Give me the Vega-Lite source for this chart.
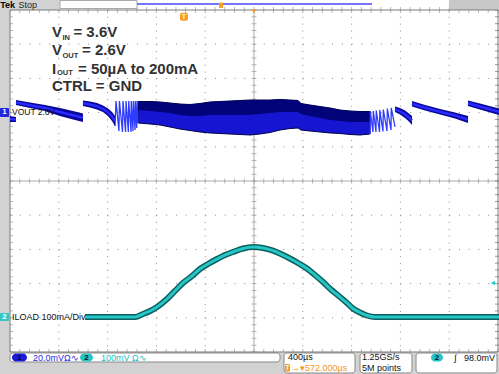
{
  "$schema": "https://vega.github.io/schema/vega-lite/v6.json",
  "width": 499,
  "height": 374,
  "autosize": {"type": "none"},
  "padding": 0,
  "background": "#ffffff",
  "config": {"view": {"stroke": null}, "font": "Liberation Sans"},
  "datasets": {
    "xt": [{"t":0},{"t":80},{"t":160},{"t":240},{"t":320},{"t":400},{"t":480},{"t":560},{"t":640},{"t":720},{"t":800},{"t":880},{"t":960},{"t":1040},{"t":1120},{"t":1200},{"t":1280},{"t":1360},{"t":1440},{"t":1520},{"t":1600},{"t":1680},{"t":1760},{"t":1840},{"t":1920},{"t":2000},{"t":2080},{"t":2160},{"t":2240},{"t":2320},{"t":2400},{"t":2480},{"t":2560},{"t":2640},{"t":2720},{"t":2800},{"t":2880},{"t":2960},{"t":3040},{"t":3120},{"t":3200},{"t":3280},{"t":3360},{"t":3440},{"t":3520},{"t":3600},{"t":3680},{"t":3760},{"t":3840},{"t":3920},{"t":4000}],
    "yt": [{"v":-5},{"v":-4.8},{"v":-4.6},{"v":-4.4},{"v":-4.2},{"v":-4},{"v":-3.8},{"v":-3.6},{"v":-3.4},{"v":-3.2},{"v":-3},{"v":-2.8},{"v":-2.6},{"v":-2.4},{"v":-2.2},{"v":-2},{"v":-1.8},{"v":-1.6},{"v":-1.4},{"v":-1.2},{"v":-1},{"v":-0.8},{"v":-0.6},{"v":-0.4},{"v":-0.2},{"v":0},{"v":0.2},{"v":0.4},{"v":0.6},{"v":0.8},{"v":1},{"v":1.2},{"v":1.4},{"v":1.6},{"v":1.8},{"v":2},{"v":2.2},{"v":2.4},{"v":2.6},{"v":2.8},{"v":3},{"v":3.2},{"v":3.4},{"v":3.6},{"v":3.8},{"v":4},{"v":4.2},{"v":4.4},{"v":4.6},{"v":4.8},{"v":5}],
    "vseg": [
      {"seg":"A","t":0,"hi":1.901,"mid":1.813,"lo":1.725},{"seg":"A","t":49,"hi":1.871,"mid":1.798,"lo":1.725},
      {"seg":"B","t":49,"hi":2.368,"mid":2.295,"lo":2.222},{"seg":"B","t":164,"hi":2.295,"mid":2.215,"lo":2.135},{"seg":"B","t":287,"hi":2.222,"mid":2.135,"lo":2.047},{"seg":"B","t":410,"hi":2.135,"mid":2.018,"lo":1.901},{"seg":"B","t":533,"hi":2.032,"mid":1.908,"lo":1.784},{"seg":"B","t":598,"hi":1.974,"mid":1.849,"lo":1.725},
      {"seg":"C","t":598,"hi":2.354,"mid":2.273,"lo":2.193},{"seg":"C","t":656,"hi":2.325,"mid":2.237,"lo":2.149},{"seg":"C","t":713,"hi":2.281,"mid":2.186,"lo":2.091},{"seg":"C","t":762,"hi":2.208,"mid":2.113,"lo":2.018},{"seg":"C","t":803,"hi":2.120,"mid":2.010,"lo":1.901},{"seg":"C","t":836,"hi":2.018,"mid":1.886,"lo":1.754},{"seg":"C","t":861,"hi":1.901,"mid":1.754,"lo":1.608},
      {"seg":"G","t":3156,"hi":2.178,"mid":2.098,"lo":2.018},{"seg":"G","t":3197,"hi":2.135,"mid":2.039,"lo":1.944},{"seg":"G","t":3238,"hi":2.061,"mid":1.952,"lo":1.842},{"seg":"G","t":3270,"hi":1.974,"mid":1.857,"lo":1.740},{"seg":"G","t":3295,"hi":1.901,"mid":1.769,"lo":1.637},
      {"seg":"H","t":3295,"hi":2.339,"mid":2.259,"lo":2.178},{"seg":"H","t":3402,"hi":2.222,"mid":2.142,"lo":2.061},{"seg":"H","t":3525,"hi":2.105,"mid":2.025,"lo":1.944},{"seg":"H","t":3648,"hi":2.003,"mid":1.915,"lo":1.827},{"seg":"H","t":3754,"hi":1.901,"mid":1.798,"lo":1.696},
      {"seg":"I","t":3754,"hi":2.354,"mid":2.273,"lo":2.193},{"seg":"I","t":3852,"hi":2.266,"mid":2.178,"lo":2.091},{"seg":"I","t":4008,"hi":2.120,"mid":2.025,"lo":1.930}
    ],
    "dense": [
      {"t":1049,"hi":2.325,"mid":2.076,"lo":1.696},{"t":1148,"hi":2.325,"mid":2.047,"lo":1.667},{"t":1230,"hi":2.310,"mid":2.018,"lo":1.637},{"t":1311,"hi":2.281,"mid":1.988,"lo":1.579},{"t":1393,"hi":2.251,"mid":1.930,"lo":1.520},{"t":1475,"hi":2.237,"mid":1.901,"lo":1.477},{"t":1557,"hi":2.266,"mid":1.901,"lo":1.433},{"t":1639,"hi":2.310,"mid":1.930,"lo":1.404},{"t":1721,"hi":2.325,"mid":1.930,"lo":1.389},{"t":1803,"hi":2.339,"mid":1.930,"lo":1.374},{"t":1885,"hi":2.354,"mid":1.930,"lo":1.360},{"t":1967,"hi":2.368,"mid":1.930,"lo":1.345},{"t":2049,"hi":2.368,"mid":1.959,"lo":1.374},{"t":2131,"hi":2.368,"mid":1.988,"lo":1.418},{"t":2213,"hi":2.383,"mid":2.018,"lo":1.491},{"t":2295,"hi":2.368,"mid":2.018,"lo":1.535},{"t":2361,"hi":2.354,"mid":2.018,"lo":1.550},{"t":2385,"hi":2.266,"mid":1.959,"lo":1.491},{"t":2459,"hi":2.222,"mid":1.901,"lo":1.462},{"t":2541,"hi":2.178,"mid":1.842,"lo":1.433},{"t":2623,"hi":2.135,"mid":1.784,"lo":1.404},{"t":2705,"hi":2.076,"mid":1.754,"lo":1.389},{"t":2787,"hi":2.047,"mid":1.725,"lo":1.360},{"t":2869,"hi":2.032,"mid":1.725,"lo":1.345},{"t":2951,"hi":2.032,"mid":1.725,"lo":1.374}
    ],
    "teeth": [
      {"grp":"L","t":861,"v":1.608},{"grp":"L","t":869,"v":2.339},{"grp":"L","t":893,"v":1.462},{"grp":"L","t":897,"v":2.339},{"grp":"L","t":922,"v":1.433},{"grp":"L","t":926,"v":2.339},{"grp":"L","t":947,"v":1.433},{"grp":"L","t":951,"v":2.339},{"grp":"L","t":970,"v":1.433},{"grp":"L","t":973,"v":2.339},{"grp":"L","t":992,"v":1.433},{"grp":"L","t":994,"v":2.339},{"grp":"L","t":1008,"v":1.462},{"grp":"L","t":1011,"v":2.339},{"grp":"L","t":1025,"v":1.491},{"grp":"L","t":1027,"v":2.339},{"grp":"L","t":1039,"v":1.550},{"grp":"L","t":1041,"v":2.339},{"grp":"L","t":1049,"v":1.696},
      {"grp":"R","t":2951,"v":1.374},{"grp":"R","t":2953,"v":2.047},{"grp":"R","t":2975,"v":1.433},{"grp":"R","t":2978,"v":2.047},{"grp":"R","t":3000,"v":1.433},{"grp":"R","t":3002,"v":2.061},{"grp":"R","t":3029,"v":1.433},{"grp":"R","t":3031,"v":2.076},{"grp":"R","t":3057,"v":1.447},{"grp":"R","t":3060,"v":2.091},{"grp":"R","t":3090,"v":1.462},{"grp":"R","t":3093,"v":2.120},{"grp":"R","t":3123,"v":1.491},{"grp":"R","t":3125,"v":2.135},{"grp":"R","t":3156,"v":1.579}
    ],
    "iload": [
      {"t":615,"v":-3.977},{"t":1025,"v":-3.977},{"t":1090,"v":-3.889},{"t":1148,"v":-3.801},{"t":1205,"v":-3.684},{"t":1287,"v":-3.450},{"t":1352,"v":-3.216},{"t":1418,"v":-2.982},{"t":1492,"v":-2.778},{"t":1557,"v":-2.573},{"t":1623,"v":-2.427},{"t":1697,"v":-2.281},{"t":1762,"v":-2.164},{"t":1828,"v":-2.076},{"t":1910,"v":-1.974},{"t":1992,"v":-1.930},{"t":2074,"v":-1.959},{"t":2156,"v":-2.038},{"t":2221,"v":-2.135},{"t":2295,"v":-2.266},{"t":2361,"v":-2.398},{"t":2434,"v":-2.558},{"t":2500,"v":-2.749},{"t":2566,"v":-2.953},{"t":2631,"v":-3.173},{"t":2705,"v":-3.392},{"t":2762,"v":-3.567},{"t":2811,"v":-3.728},{"t":2869,"v":-3.845},{"t":2926,"v":-3.933},{"t":2992,"v":-3.977},{"t":4008,"v":-3.977}
    ]
  },
  "layer": [
    {
      "data": {"values": [{"t":400},{"t":800},{"t":1200},{"t":1600},{"t":2400},{"t":2800},{"t":3200},{"t":3600}]},
      "mark": {"type": "rule", "color": "#8c8c8c", "strokeWidth": 1, "strokeDash": [1, 5.84]},
      "encoding": {
        "x": {"field": "t", "type": "quantitative", "scale": {"domain": [-82, 4008.2], "nice": false, "zero": false}, "axis": null},
        "y": {"datum": 5, "type": "quantitative", "scale": {"domain": [-5.6433, 5.2924], "nice": false, "zero": false}, "axis": null},
        "y2": {"datum": -5}
      }
    },
    {
      "data": {"values": [{"v":-4},{"v":-3},{"v":-2},{"v":-1},{"v":1},{"v":2},{"v":3},{"v":4}]},
      "mark": {"type": "rule", "color": "#8c8c8c", "strokeWidth": 1, "strokeDash": [1, 8.76]},
      "encoding": {
        "x": {"datum": 0, "type": "quantitative"},
        "x2": {"datum": 4000},
        "y": {"field": "v", "type": "quantitative"}
      }
    },
    {
      "data": {"values": [{"t":2000}]},
      "mark": {"type": "rule", "color": "#ababab", "strokeWidth": 1},
      "encoding": {"x": {"field": "t", "type": "quantitative"}, "y": {"datum": 5, "type": "quantitative"}, "y2": {"datum": -5}}
    },
    {
      "data": {"values": [{"v":0}]},
      "mark": {"type": "rule", "color": "#ababab", "strokeWidth": 1},
      "encoding": {"x": {"datum": 0, "type": "quantitative"}, "x2": {"datum": 4000}, "y": {"field": "v", "type": "quantitative"}}
    },
    {
      "data": {"name": "xt"},
      "mark": {"type": "tick", "orient": "vertical", "size": 5, "thickness": 1, "color": "#9a9a9a"},
      "encoding": {"x": {"field": "t", "type": "quantitative"}, "y": {"datum": 0, "type": "quantitative"}}
    },
    {
      "data": {"name": "xt"},
      "mark": {"type": "tick", "orient": "vertical", "size": 6, "thickness": 1, "color": "#9a9a9a"},
      "encoding": {"x": {"field": "t", "type": "quantitative"}, "y": {"datum": 5, "type": "quantitative"}}
    },
    {
      "data": {"name": "xt"},
      "mark": {"type": "tick", "orient": "vertical", "size": 6, "thickness": 1, "color": "#9a9a9a"},
      "encoding": {"x": {"field": "t", "type": "quantitative"}, "y": {"datum": -5, "type": "quantitative"}}
    },
    {
      "data": {"name": "yt"},
      "mark": {"type": "tick", "orient": "horizontal", "size": 5, "thickness": 1, "color": "#9a9a9a"},
      "encoding": {"x": {"datum": 2000, "type": "quantitative"}, "y": {"field": "v", "type": "quantitative"}}
    },
    {
      "data": {"name": "yt"},
      "mark": {"type": "tick", "orient": "horizontal", "size": 6, "thickness": 1, "color": "#9a9a9a"},
      "encoding": {"x": {"datum": 0, "type": "quantitative"}, "y": {"field": "v", "type": "quantitative"}}
    },
    {
      "data": {"name": "yt"},
      "mark": {"type": "tick", "orient": "horizontal", "size": 6, "thickness": 1, "color": "#6a6a6a"},
      "encoding": {"x": {"datum": 4000, "type": "quantitative"}, "y": {"field": "v", "type": "quantitative"}}
    },
    {
      "data": {"values": [
        {"t":-82,"t2":0,"v":-5,"v2":5},
        {"t":-82,"t2":4008.2,"v":-5.6433,"v2":-5},
        {"t":-82,"t2":410,"v":5,"v2":5.2924}
      ]},
      "mark": {"type": "rect", "fill": "#d2d2d2"},
      "encoding": {"x": {"field": "t", "type": "quantitative"}, "x2": {"field": "t2"}, "y": {"field": "v", "type": "quantitative"}, "y2": {"field": "v2"}}
    },
    {
      "data": {"values": [{"t":3598,"t2":4008.2,"v":5,"v2":5.2924}]},
      "mark": {"type": "rect", "fill": "#c8c8c8"},
      "encoding": {"x": {"field": "t", "type": "quantitative"}, "x2": {"field": "t2"}, "y": {"field": "v", "type": "quantitative"}, "y2": {"field": "v2"}}
    },
    {
      "data": {"values": [{"t":410,"t2":1041,"v":5.044,"v2":5.278}]},
      "mark": {"type": "rect", "fill": "#ffffff", "stroke": "#a8a8a8", "strokeWidth": 1},
      "encoding": {"x": {"field": "t", "type": "quantitative"}, "x2": {"field": "t2"}, "y": {"field": "v", "type": "quantitative"}, "y2": {"field": "v2"}}
    },
    {
      "data": {"values": [
        {"t":0,"t2":2213,"v":-5.029,"v2":-5.292},
        {"t":2246,"t2":2828,"v":-5.029,"v2":-5.614},
        {"t":2869,"t2":3295,"v":-5.029,"v2":-5.614},
        {"t":3328,"t2":3992,"v":-5.029,"v2":-5.614}
      ]},
      "mark": {"type": "rect", "fill": "#ffffff", "stroke": "#8a8a8a", "strokeWidth": 1, "cornerRadius": 3},
      "encoding": {"x": {"field": "t", "type": "quantitative"}, "x2": {"field": "t2"}, "y": {"field": "v", "type": "quantitative"}, "y2": {"field": "v2"}}
    },
    {
      "data": {"values": [{"t":0,"t2":4000,"v":-5,"v2":5}]},
      "mark": {"type": "rect", "fillOpacity": 0, "stroke": "#7c7c7c", "strokeWidth": 1},
      "encoding": {"x": {"field": "t", "type": "quantitative"}, "x2": {"field": "t2"}, "y": {"field": "v", "type": "quantitative"}, "y2": {"field": "v2"}}
    },
    {
      "data": {"values": [{"t":1041,"t2":2967,"v":5.175}]},
      "mark": {"type": "rule", "color": "#4646f0", "strokeWidth": 1.5},
      "encoding": {"x": {"field": "t", "type": "quantitative"}, "x2": {"field": "t2"}, "y": {"field": "v", "type": "quantitative"}}
    },
    {
      "data": {"values": [{"t":1713,"t2":1746,"v":5.058,"v2":5.219}]},
      "mark": {"type": "rect", "fill": "#f5a023", "cornerRadius": 1},
      "encoding": {"x": {"field": "t", "type": "quantitative"}, "x2": {"field": "t2"}, "y": {"field": "v", "type": "quantitative"}, "y2": {"field": "v2"}}
    },
    {
      "data": {"name": "dense"},
      "mark": {"type": "area", "fill": "#1616d2", "stroke": "#00004a", "strokeWidth": 1},
      "encoding": {"x": {"field": "t", "type": "quantitative"}, "y": {"field": "hi", "type": "quantitative"}, "y2": {"field": "lo"}}
    },
    {
      "data": {"name": "dense"},
      "mark": {"type": "area", "fill": "#00006a", "opacity": 0.85},
      "encoding": {"x": {"field": "t", "type": "quantitative"}, "y": {"field": "hi", "type": "quantitative"}, "y2": {"field": "mid"}}
    },
    {
      "data": {"name": "teeth"},
      "mark": {"type": "line", "color": "#2f3cff", "strokeWidth": 1.3},
      "encoding": {"x": {"field": "t", "type": "quantitative"}, "y": {"field": "v", "type": "quantitative"}, "detail": {"field": "grp"}}
    },
    {
      "data": {"name": "vseg"},
      "mark": {"type": "area", "fill": "#07079a"},
      "encoding": {"x": {"field": "t", "type": "quantitative"}, "y": {"field": "hi", "type": "quantitative"}, "y2": {"field": "lo"}, "detail": {"field": "seg"}}
    },
    {
      "data": {"name": "vseg"},
      "mark": {"type": "line", "color": "#2a2aff", "strokeWidth": 2.5},
      "encoding": {"x": {"field": "t", "type": "quantitative"}, "y": {"field": "mid", "type": "quantitative"}, "detail": {"field": "seg"}}
    },
    {
      "data": {"name": "iload"},
      "mark": {"type": "line", "color": "#0c5f5f", "strokeWidth": 6, "interpolate": "monotone"},
      "encoding": {"x": {"field": "t", "type": "quantitative"}, "y": {"field": "v", "type": "quantitative"}}
    },
    {
      "data": {"name": "iload"},
      "mark": {"type": "line", "color": "#27c6c6", "strokeWidth": 3, "interpolate": "monotone"},
      "encoding": {"x": {"field": "t", "type": "quantitative"}, "y": {"field": "v", "type": "quantitative"}}
    },
    {
      "data": {"values": [{"t":-82,"t2":-8,"v":1.871,"v2":2.135}]},
      "mark": {"type": "rect", "fill": "#2525e0", "cornerRadius": 1},
      "encoding": {"x": {"field": "t", "type": "quantitative"}, "x2": {"field": "t2"}, "y": {"field": "v", "type": "quantitative"}, "y2": {"field": "v2"}}
    },
    {
      "data": {"values": [{"t":-82,"t2":-8,"v":-3.860,"v2":-4.094}]},
      "mark": {"type": "rect", "fill": "#34c6c6", "cornerRadius": 1},
      "encoding": {"x": {"field": "t", "type": "quantitative"}, "x2": {"field": "t2"}, "y": {"field": "v", "type": "quantitative"}, "y2": {"field": "v2"}}
    },
    {
      "data": {"values": [{"t":-45,"v":2.003,"txt":"1"},{"t":-45,"v":-3.977,"txt":"2"}]},
      "mark": {"type": "text", "color": "#ffffff", "fontSize": 8, "fontWeight": "bold", "align": "center", "baseline": "middle"},
      "encoding": {"x": {"field": "t", "type": "quantitative"}, "y": {"field": "v", "type": "quantitative"}, "text": {"field": "txt"}}
    },
    {
      "data": {"values": [{"t":16,"v":2.003,"txt":"VOUT 2.6V"}]},
      "mark": {"type": "text", "color": "#111111", "fontSize": 8.5, "align": "left", "baseline": "middle"},
      "encoding": {"x": {"field": "t", "type": "quantitative"}, "y": {"field": "v", "type": "quantitative"}, "text": {"field": "txt"}}
    },
    {
      "data": {"values": [{"t":16,"v":-3.977,"txt":"ILOAD 100mA/Div"}]},
      "mark": {"type": "text", "color": "#111111", "fontSize": 9, "align": "left", "baseline": "middle"},
      "encoding": {"x": {"field": "t", "type": "quantitative"}, "y": {"field": "v", "type": "quantitative"}, "text": {"field": "txt"}}
    },
    {
      "data": {"values": [{"t":1393,"t2":1459,"v":4.687,"v2":4.921}]},
      "mark": {"type": "rect", "fill": "#f5a02a", "cornerRadius": 2},
      "encoding": {"x": {"field": "t", "type": "quantitative"}, "x2": {"field": "t2"}, "y": {"field": "v", "type": "quantitative"}, "y2": {"field": "v2"}}
    },
    {
      "data": {"values": [{"t":1426,"v":4.804,"txt":"T"}]},
      "mark": {"type": "text", "color": "#fff3dc", "fontSize": 7, "fontWeight": "bold", "align": "center", "baseline": "middle"},
      "encoding": {"x": {"field": "t", "type": "quantitative"}, "y": {"field": "v", "type": "quantitative"}, "text": {"field": "txt"}}
    },
    {
      "data": {"values": [{"t":2000,"v":4.96}]},
      "mark": {"type": "point", "shape": "triangle-down", "filled": true, "size": 22, "color": "#f5a02a", "opacity": 1},
      "encoding": {"x": {"field": "t", "type": "quantitative"}, "y": {"field": "v", "type": "quantitative"}}
    },
    {
      "data": {"values": [{"t":3959,"v":-2.982}]},
      "mark": {"type": "point", "shape": "triangle-left", "filled": true, "size": 22, "color": "#22c8c8", "opacity": 1},
      "encoding": {"x": {"field": "t", "type": "quantitative"}, "y": {"field": "v", "type": "quantitative"}}
    },
    {
      "data": {"values": [{"t":344,"v":4.211,"txt":"V"},{"t":520,"v":4.211,"txt":"= 3.6V"},{"t":344,"v":3.684,"txt":"V"},{"t":590,"v":3.684,"txt":"= 2.6V"},{"t":344,"v":3.143,"txt":"I"},{"t":557,"v":3.143,"txt":"= 50µA to 200mA"},{"t":344,"v":2.640,"txt":"CTRL = GND"}]},
      "mark": {"type": "text", "color": "#333333", "fontSize": 15, "fontWeight": "bold", "align": "left", "baseline": "alphabetic"},
      "encoding": {"x": {"field": "t", "type": "quantitative"}, "y": {"field": "v", "type": "quantitative"}, "text": {"field": "txt"}}
    },
    {
      "data": {"values": [{"t":430,"v":4.137,"txt":"IN"},{"t":430,"v":3.611,"txt":"OUT"},{"t":385,"v":3.099,"txt":"OUT"}]},
      "mark": {"type": "text", "color": "#333333", "fontSize": 7.5, "fontWeight": "bold", "align": "left", "baseline": "alphabetic"},
      "encoding": {"x": {"field": "t", "type": "quantitative"}, "y": {"field": "v", "type": "quantitative"}, "text": {"field": "txt"}}
    },
    {
      "data": {"values": [{"t":-80,"v":5.146,"txt":"Tek"}]},
      "mark": {"type": "text", "color": "#000000", "fontSize": 9, "fontWeight": "bold", "align": "left", "baseline": "middle"},
      "encoding": {"x": {"field": "t", "type": "quantitative"}, "y": {"field": "v", "type": "quantitative"}, "text": {"field": "txt"}}
    },
    {
      "data": {"values": [{"t":70,"v":5.146,"txt":"Stop"}]},
      "mark": {"type": "text", "color": "#222222", "fontSize": 9, "align": "left", "baseline": "middle"},
      "encoding": {"x": {"field": "t", "type": "quantitative"}, "y": {"field": "v", "type": "quantitative"}, "text": {"field": "txt"}}
    },
    {
      "data": {"values": [{"t":16,"t2":139,"v":-5.044,"v2":-5.278}]},
      "mark": {"type": "rect", "fill": "#1a1ad8", "cornerRadius": 4},
      "encoding": {"x": {"field": "t", "type": "quantitative"}, "x2": {"field": "t2"}, "y": {"field": "v", "type": "quantitative"}, "y2": {"field": "v2"}}
    },
    {
      "data": {"values": [{"t":574,"t2":680,"v":-5.044,"v2":-5.278},{"t":3451,"t2":3549,"v":-5.044,"v2":-5.278}]},
      "mark": {"type": "rect", "fill": "#25c5c5", "cornerRadius": 4},
      "encoding": {"x": {"field": "t", "type": "quantitative"}, "x2": {"field": "t2"}, "y": {"field": "v", "type": "quantitative"}, "y2": {"field": "v2"}}
    },
    {
      "data": {"values": [{"t":77,"v":-5.161,"txt":"1"},{"t":627,"v":-5.161,"txt":"2"},{"t":3500,"v":-5.161,"txt":"2"}]},
      "mark": {"type": "text", "color": "#0a0a2a", "fontSize": 8, "fontWeight": "bold", "align": "center", "baseline": "middle"},
      "encoding": {"x": {"field": "t", "type": "quantitative"}, "y": {"field": "v", "type": "quantitative"}, "text": {"field": "txt"}}
    },
    {
      "data": {"values": [{"t":189,"v":-5.161,"txt":"20.0mVΩ∿"}]},
      "mark": {"type": "text", "color": "#2a2ae6", "fontSize": 9, "align": "left", "baseline": "middle"},
      "encoding": {"x": {"field": "t", "type": "quantitative"}, "y": {"field": "v", "type": "quantitative"}, "text": {"field": "txt"}}
    },
    {
      "data": {"values": [{"t":746,"v":-5.161,"txt":"100mV Ω∿"}]},
      "mark": {"type": "text", "color": "#22c0c0", "fontSize": 9, "align": "left", "baseline": "middle"},
      "encoding": {"x": {"field": "t", "type": "quantitative"}, "y": {"field": "v", "type": "quantitative"}, "text": {"field": "txt"}}
    },
    {
      "data": {"values": [{"t":2279,"v":-5.146,"txt":"400µs"},{"t":2885,"v":-5.146,"txt":"1.25GS/s"},{"t":2885,"v":-5.468,"txt":"5M points"},{"t":3640,"v":-5.161,"txt":"∫"}]},
      "mark": {"type": "text", "color": "#111111", "fontSize": 9, "align": "left", "baseline": "middle"},
      "encoding": {"x": {"field": "t", "type": "quantitative"}, "y": {"field": "v", "type": "quantitative"}, "text": {"field": "txt"}}
    },
    {
      "data": {"values": [{"t":3975,"v":-5.161,"txt":"98.0mV"}]},
      "mark": {"type": "text", "color": "#111111", "fontSize": 9, "align": "right", "baseline": "middle"},
      "encoding": {"x": {"field": "t", "type": "quantitative"}, "y": {"field": "v", "type": "quantitative"}, "text": {"field": "txt"}}
    },
    {
      "data": {"values": [{"t":2254,"t2":2295,"v":-5.351,"v2":-5.570}]},
      "mark": {"type": "rect", "fill": "#f39c1e", "cornerRadius": 1},
      "encoding": {"x": {"field": "t", "type": "quantitative"}, "x2": {"field": "t2"}, "y": {"field": "v", "type": "quantitative"}, "y2": {"field": "v2"}}
    },
    {
      "data": {"values": [{"t":2274,"v":-5.46,"txt":"T"}]},
      "mark": {"type": "text", "color": "#ffffff", "fontSize": 6.5, "fontWeight": "bold", "align": "center", "baseline": "middle"},
      "encoding": {"x": {"field": "t", "type": "quantitative"}, "y": {"field": "v", "type": "quantitative"}, "text": {"field": "txt"}}
    },
    {
      "data": {"values": [{"t":2303,"v":-5.468,"txt":"→▾572.000µs"}]},
      "mark": {"type": "text", "color": "#f0961a", "fontSize": 9, "align": "left", "baseline": "middle"},
      "encoding": {"x": {"field": "t", "type": "quantitative"}, "y": {"field": "v", "type": "quantitative"}, "text": {"field": "txt"}}
    }
  ]
}
